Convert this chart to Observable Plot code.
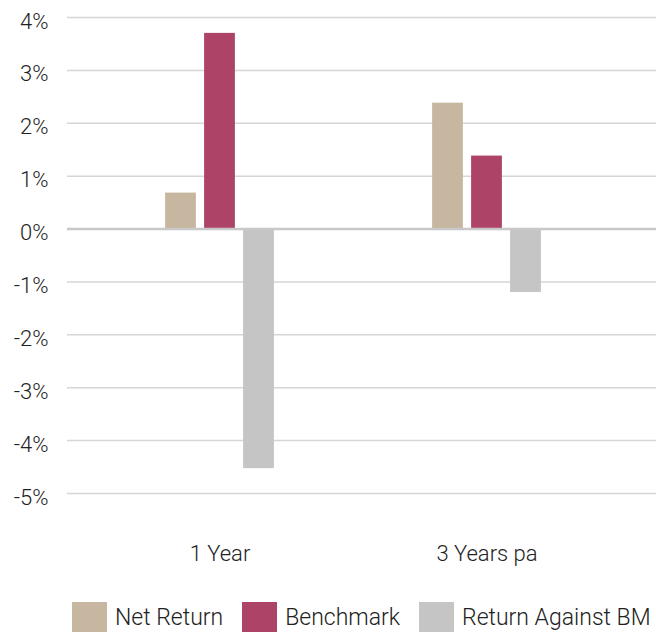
<!DOCTYPE html>
<html>
<head>
<meta charset="utf-8">
<script src="https://cdn.jsdelivr.net/npm/d3@7"></script>
<script src="https://cdn.jsdelivr.net/npm/@observablehq/plot@0.6"></script>
<style>
  html, body { margin: 0; padding: 0; background: #fff; }
  body { font-family: Roboto, "Liberation Sans", sans-serif; color: #333; width: 656px; }
  #legend { display: flex; align-items: center; padding-left: 72px; margin-top: 22px; font-size: 23px; font-weight: 300; color: #222; white-space: nowrap; }
  #legend .item { display: flex; align-items: center; margin-right: 19px; }
  #legend .sw { width: 35px; height: 30px; margin-right: 8px; }
</style>
</head>
<body>
<div id="chart"></div>
<div id="legend"></div>
<script>
const categories = ["1 Year", "3 Years pa"];
const seriesNames = ["Net Return", "Benchmark", "Return Against BM"];
const netReturn = [0.68, 2.38];
const benchmark = [3.7, 1.38];
const returnAgainstBM = [-4.53, -1.2];
const seriesColors = ["#c8b7a0", "#ad4468", "#c5c5c5"];
const yTicks = [-5, -4, -3, -2, -1, 0, 1, 2, 3, 4];

const seriesValues = [netReturn, benchmark, returnAgainstBM];
const barOffsets = [-39, 0, 39];
const bandInset = 118.1;

const barMarks = seriesNames.map((name, i) =>
  Plot.barY(
    categories.map((c, j) => ({category: c, series: name, value: seriesValues[i][j]})),
    {x: "category", y: "value", fill: seriesColors[i], insetLeft: bandInset, insetRight: bandInset, dx: barOffsets[i]}
  )
);

const chart = Plot.plot({
  width: 656,
  height: 580,
  marginTop: 17,
  marginBottom: 87,
  marginLeft: 67,
  marginRight: 0,
  style: {fontFamily: "Roboto, 'Liberation Sans', sans-serif", fontSize: "22px", fontWeight: 300, color: "#222", background: "#fff", overflow: "visible"},
  x: {domain: categories, range: [86, 620.5], padding: 0},
  y: {domain: [-5, 4]},
  marks: [
    Plot.ruleY(yTicks.filter(d => d !== 0), {stroke: "#d6d6d6", strokeWidth: 1.5}),
    ...barMarks,
    Plot.ruleY([0], {stroke: "#c8c8c8", strokeWidth: 2.5}),
    Plot.axisY({ticks: yTicks, tickFormat: d => `${d}%`, tickSize: 0, tickPadding: 19, dy: 4, label: null, fontSize: 22}),
    Plot.axisX({tickSize: 0, tickPadding: 52, label: null, fontSize: 22})
  ]
});
document.getElementById("chart").appendChild(chart);

const legend = document.getElementById("legend");
seriesNames.forEach((name, i) => {
  const item = document.createElement("div");
  item.className = "item";
  const sw = document.createElement("div");
  sw.className = "sw";
  sw.style.background = seriesColors[i];
  const label = document.createElement("span");
  label.textContent = name;
  item.appendChild(sw);
  item.appendChild(label);
  legend.appendChild(item);
});
</script>
</body>
</html>
